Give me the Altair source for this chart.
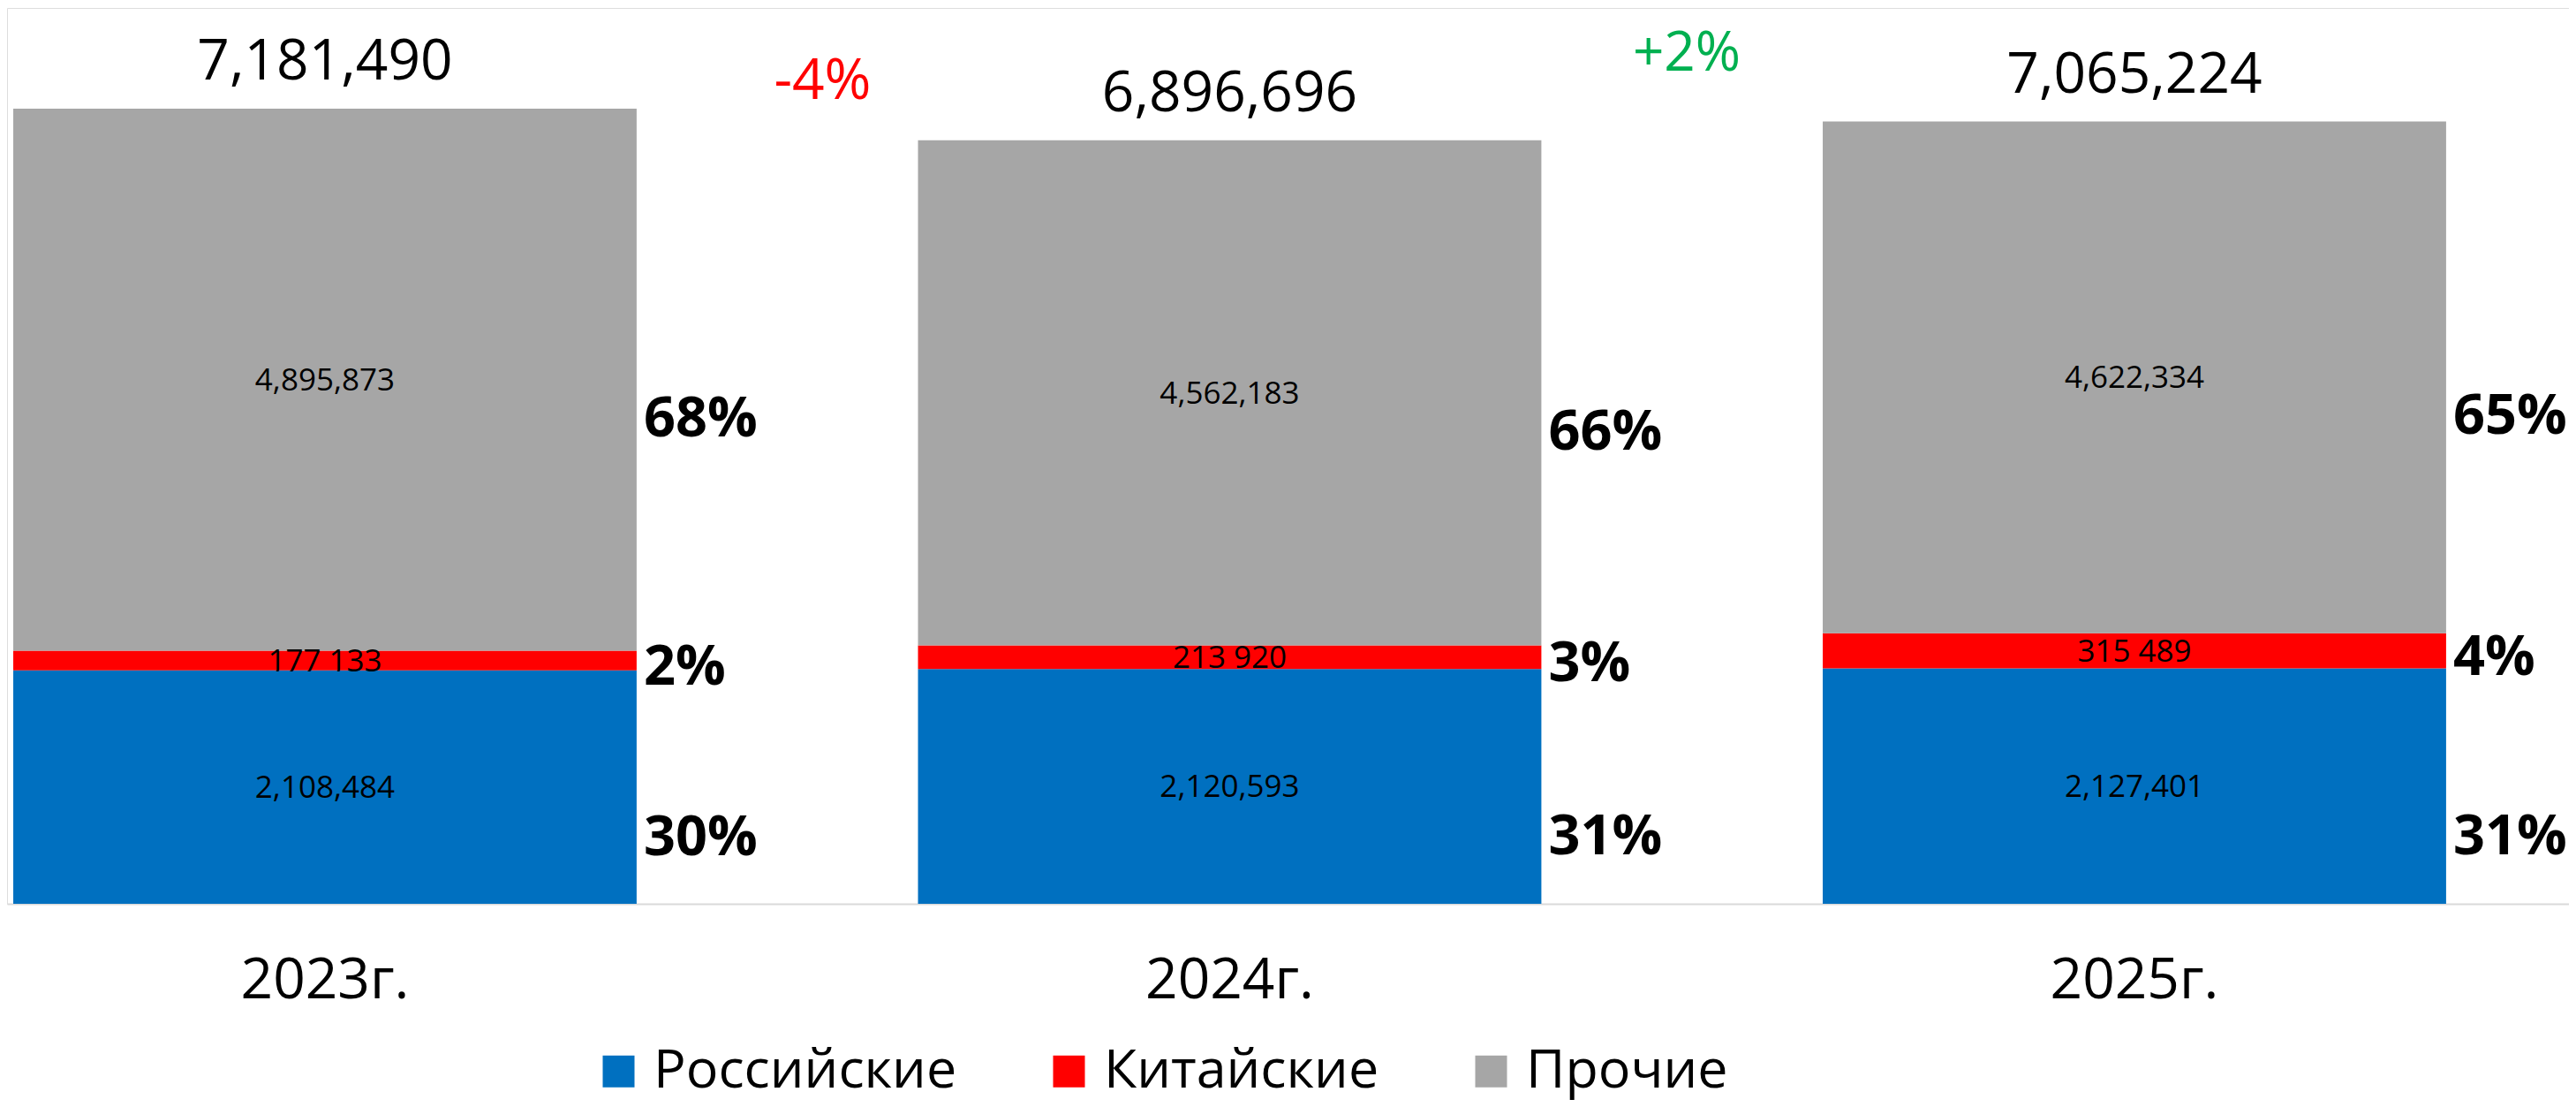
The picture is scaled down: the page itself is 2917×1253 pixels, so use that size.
import altair as alt
import pandas as pd

FONT = "Open Sans"

years = ["2023г.", "2024г.", "2025г."]
categories = ["Российские", "Китайские", "Прочие"]
russian = [2108484, 2120593, 2127401]
chinese = [177133, 213920, 315489]
other = [4895873, 4562183, 4622334]
totals = [7181490, 6896696, 7065224]
pct_russian = ["30%", "31%", "31%"]
pct_chinese = ["2%", "3%", "4%"]
pct_other = ["68%", "66%", "65%"]
change_labels = ["-4%", "+2%"]
colors = ["#0070C0", "#FF0000", "#A6A6A6"]

rows = []
series = [russian, chinese, other]
pcts = [pct_russian, pct_chinese, pct_other]
for i, yr in enumerate(years):
    for j, cat in enumerate(categories):
        v = series[j][i]
        lab = f"{v:,}"
        if j == 1:
            lab = lab.replace(",", " ")
        rows.append(dict(year=yr, cat=cat, order=j, value=v, label=lab, pct=pcts[j][i]))
df = pd.DataFrame(rows)
tot_df = pd.DataFrame(dict(year=years, total=totals, label=[f"{t:,}" for t in totals]))
chg_df = pd.DataFrame(dict(year=years[1:], total=totals[1:], label=change_labels))

xscale = alt.Scale(domain=years, paddingInner=0.311, paddingOuter=0.0713, align=0.048)
yscale = alt.Scale(domain=[0, 8091000])
xaxis = alt.Axis(title=None, labelFontSize=64, labelFont=FONT, labelColor="black",
                 labelBaseline="alphabetic", labelPadding=106, ticks=False, labelAngle=0,
                 labelLimit=0, domainColor="#D9D9D9", domainWidth=2, grid=False)
x_enc = alt.X("year:N", scale=xscale, axis=xaxis, sort=years)

base = alt.Chart(df).transform_stack(
    stack="value", groupby=["year"], sort=[alt.SortField("order")], as_=["y0", "y1"]
).transform_calculate(mid="(datum.y0 + datum.y1) / 2")

bars = base.mark_bar().encode(
    x=x_enc,
    y=alt.Y("y0:Q", scale=yscale, axis=None),
    y2="y1:Q",
    color=alt.Color("cat:N", scale=alt.Scale(domain=categories, range=colors),
                    legend=alt.Legend(title=None, orient="none", legendX=662, legendY=1173,
                                      direction="horizontal", symbolType="square",
                                      symbolSize=1296, symbolStrokeWidth=0,
                                      labelFontSize=61, labelFont=FONT, labelColor="black",
                                      columnPadding=96, labelOffset=9, padding=0,
                                      labelLimit=0)),
)

inner = base.mark_text(font=FONT, fontSize=35, baseline="alphabetic", dy=12, color="black").encode(
    x=x_enc, y=alt.Y("mid:Q", scale=yscale, axis=None), text="label:N")

pct_layers = []
for cat, dy in zip(categories, [77, 27, 64]):
    pct_layers.append(
        base.transform_filter(alt.datum.cat == cat).mark_text(
            font=FONT, fontSize=63, fontWeight="bold", align="left", baseline="alphabetic",
            dx=361, dy=dy, color="black").encode(
            x=x_enc, y=alt.Y("mid:Q", scale=yscale, axis=None), text="pct:N"))

tot = alt.Chart(tot_df).mark_text(font=FONT, fontSize=64, baseline="alphabetic", dy=-33,
                                  color="black").encode(
    x=x_enc, y=alt.Y("total:Q", scale=yscale, axis=None), text="label:N")

chg1 = alt.Chart(chg_df).transform_filter(alt.datum.year == years[1]).mark_text(
    font=FONT, fontSize=64, baseline="alphabetic", dx=-461, dy=-47, color="#FF0000").encode(
    x=x_enc, y=alt.Y("total:Q", scale=yscale, axis=None), text="label:N")
chg2 = alt.Chart(chg_df).transform_filter(alt.datum.year == years[2]).mark_text(
    font=FONT, fontSize=62, baseline="alphabetic", dx=-507, dy=-58, color="#00B050").encode(
    x=x_enc, y=alt.Y("total:Q", scale=yscale, axis=None), text="label:N")

chart = alt.layer(bars, inner, *pct_layers, tot, chg1, chg2).properties(
    width=2901, height=1014,
    autosize=alt.AutoSizeParams(type="none"),
    padding={"left": 0, "top": 1, "right": 0, "bottom": 230},
).configure_view(stroke=None).configure(background="white")

chart.save("out.html", embed_options={"renderer": "svg", "actions": False})
